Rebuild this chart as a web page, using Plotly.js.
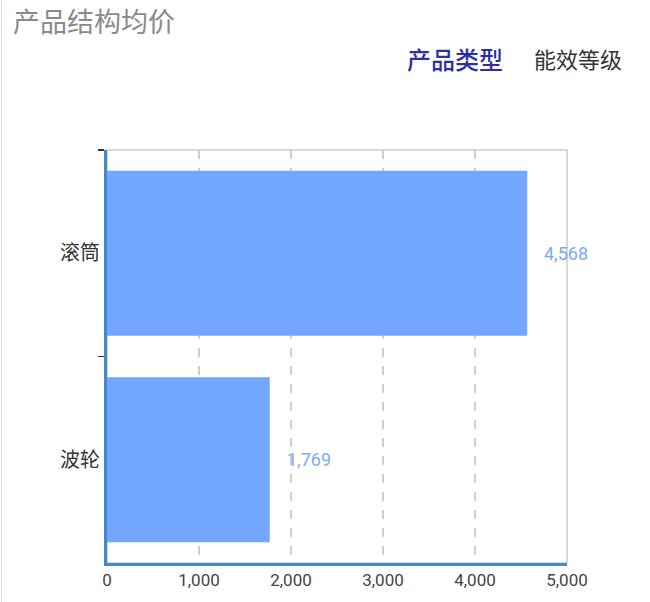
<!DOCTYPE html>
<html>
<head>
<meta charset="utf-8">
<script src="https://cdn.plot.ly/plotly-3.0.1.min.js"></script>
<style>
  body { margin: 0; background: #fff; }
  #chart { width: 650px; height: 602px; }
  #edge { position: absolute; left: 1px; top: 0; width: 1px; height: 602px; background: #dadada; }
</style>
</head>
<body>
<div id="chart"></div>
<div id="edge"></div>
<script>
// 产品结构均价 - 按产品类型
var categories = ['滚筒', '波轮'];
var prices = [4568, 1769];
var tabs = ['产品类型', '能效等级'];

var fontFam = 'Roboto, "Noto Sans CJK SC", sans-serif';
var barColor = '#72a6ff';

var trace = {
  type: 'bar',
  orientation: 'h',
  x: prices,
  y: categories,
  marker: { color: barColor, line: { width: 0 } },
  hoverinfo: 'none'
};

// value labels next to the bars
var labels = [];
for (let i = 0; i < prices.length; i++) {
  labels.push({
    x: prices[i], y: categories[i], xref: 'x', yref: 'y',
    text: prices[i].toLocaleString('en-US'),
    showarrow: false, xanchor: 'left', xshift: 15,
    font: { family: fontFam, size: 18, color: '#79abf6' }
  });
}

// tab labels above the chart
labels.push({
  x: 0.7565, y: 1.2155, xref: 'paper', yref: 'paper',
  xanchor: 'center', yanchor: 'middle',
  text: tabs[0], showarrow: false,
  font: { family: fontFam, size: 24, color: '#2d2fa3', weight: 500 }
});
labels.push({
  x: 1.024, y: 1.2155, xref: 'paper', yref: 'paper',
  xanchor: 'center', yanchor: 'middle',
  text: tabs[1], showarrow: false,
  font: { family: fontFam, size: 22, color: '#333333' }
});

var layout = {
  width: 650,
  height: 602,
  margin: { l: 107, r: 83, t: 150, b: 39 },
  paper_bgcolor: '#ffffff',
  plot_bgcolor: '#ffffff',
  showlegend: false,
  bargap: 0.2,
  font: { family: fontFam, color: '#444' },
  title: {
    text: '产品结构均价',
    x: 13 / 650, xref: 'container', xanchor: 'left',
    y: 1 - 23 / 602, yref: 'container', yanchor: 'middle',
    font: { family: fontFam, size: 27, color: '#8a8a8a' }
  },
  xaxis: {
    range: [0, 5000],
    dtick: 1000,
    tickformat: ',d',
    showgrid: true,
    gridcolor: '#cfcfcf',
    griddash: 'dash',
    gridwidth: 1.5,
    zeroline: false,
    showline: true,
    linecolor: '#3d8bcb',
    linewidth: 3,
    ticks: '',
    tickfont: { size: 17, color: '#444' }
  },
  yaxis: {
    type: 'category',
    autorange: 'reversed',
    tickson: 'boundaries',
    ticks: 'outside',
    ticklen: 6,
    tickwidth: 1.5,
    tickcolor: '#333',
    showgrid: false,
    zeroline: false,
    showline: true,
    linecolor: '#3d8bcb',
    linewidth: 3,
    tickfont: { size: 20, color: '#333' }
  },
  shapes: [{
    type: 'rect', xref: 'paper', yref: 'paper',
    x0: 0, x1: 1, y0: 0, y1: 1,
    line: { color: '#cccccc', width: 1.5 },
    layer: 'below'
  }],
  annotations: labels
};

Plotly.newPlot('chart', [trace], layout, { displayModeBar: false, staticPlot: true });
</script>
</body>
</html>
